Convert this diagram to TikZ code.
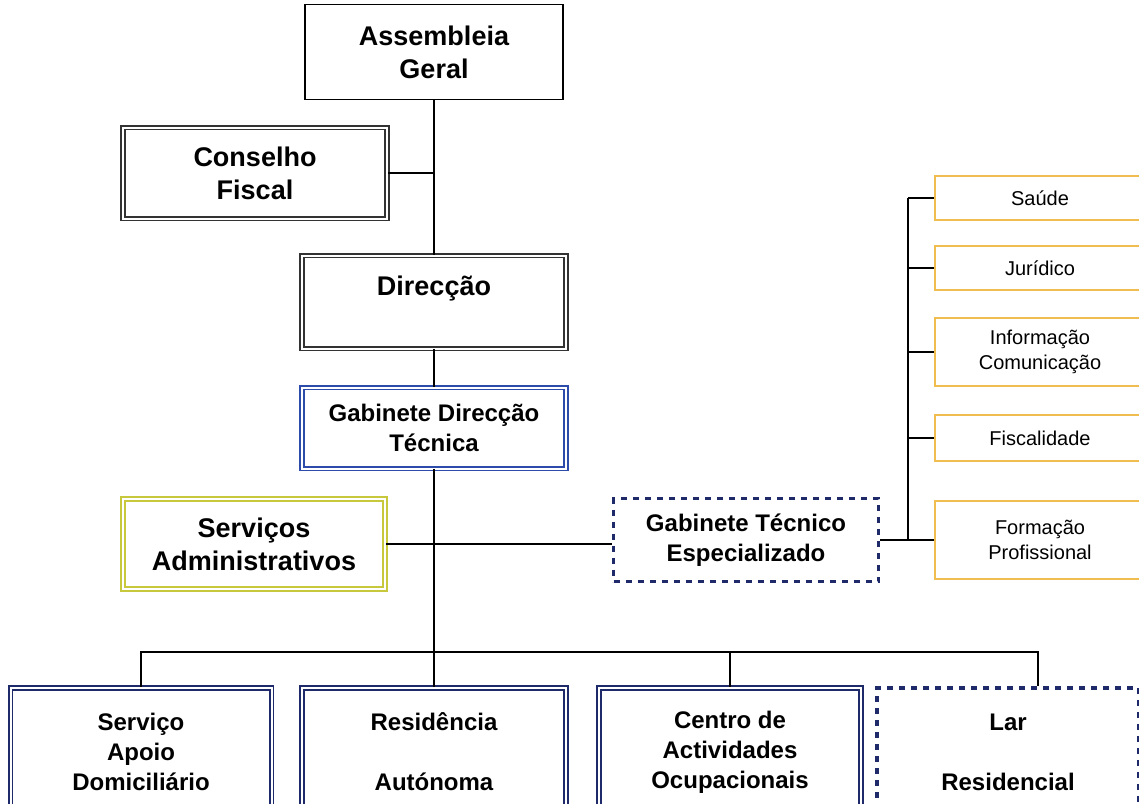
\documentclass[tikz,border=0pt]{standalone}
\usepackage{fontspec}
\setmainfont{Liberation Sans}
\usetikzlibrary{positioning}
\definecolor{gdtblue}{RGB}{45,75,170}
\definecolor{navyline}{RGB}{30,42,105}
\definecolor{admyellow}{RGB}{200,200,60}
\definecolor{gteorange}{RGB}{240,190,80}
\begin{document}
\begin{tikzpicture}[x=1pt,y=-1pt,
    unit/.style={rectangle, draw=black!80, line width=1.6pt, double=white, double distance=2pt, align=center, inner sep=0pt, font=\bfseries\fontsize{27}{33}\selectfont},
    lower/.style={unit, font=\bfseries\fontsize{24}{30}\selectfont},
    dashunit/.style={rectangle, draw=navyline, line width=3.5pt, dash pattern=on 6pt off 6pt, align=center, inner sep=0pt, font=\bfseries\fontsize{24}{30}\selectfont},
    area/.style={rectangle, draw=gteorange, line width=2.2pt, align=center, inner sep=0pt, minimum width=210pt, font=\fontsize{20}{25}\selectfont},
    line width=1.5pt]
        \useasboundingbox (0,0) rectangle (1139,803);

        \node at (434,52) [rectangle, draw, line width=1.8pt, align=center, minimum width=258pt, minimum height=95pt, font=\bfseries\fontsize{27}{33}\selectfont] (assembleia) {Assembleia\\Geral};
        \node at (255,173) [unit, minimum width=264pt, minimum height=91pt] (conselho) {Conselho\\Fiscal};
        \node at (434,302) [unit, minimum width=264pt, minimum height=93pt] (direccao) {Direcção\\~};
        \node at (434,428) [lower, draw=gdtblue, minimum width=264pt, minimum height=81pt] (gabdt) {Gabinete Direcção\\Técnica};
        \node at (254,544) [unit, draw=admyellow, minimum width=262pt, minimum height=90pt] (servadm) {Serviços\\Administrativos};
        \node at (746,540) [dashunit, minimum width=265pt, minimum height=83pt] (gabte) {Gabinete Técnico\\Especializado};

        % areas of the technical office
        \node at (1040,198) [area, minimum height=44pt] (saude) {Saúde};
        \node at (1040,268) [area, minimum height=44pt] (juridico) {Jurídico};
        \node at (1040,352) [area, minimum height=68pt] (informacao) {Informação\\Comunicação};
        \node at (1040,438) [area, minimum height=46pt] (fiscalidade) {Fiscalidade};
        \node at (1040,540) [area, minimum height=78pt] (formacao) {Formação\\Profissional};

        % services
        \node at (141,752) [lower, draw=navyline, minimum width=261pt, minimum height=128pt] (sad) {Serviço\\Apoio\\Domiciliário};
        \node at (434,752) [lower, draw=navyline, minimum width=264pt, minimum height=128pt] (residencia) {Residência\\~\\Autónoma};
        \node at (730,752) [lower, draw=navyline, minimum width=262pt, minimum height=128pt] (cao) {Centro de\\Actividades\\Ocupacionais};
        \node at (1008,752) [dashunit, minimum width=262pt, minimum height=128pt] (lar) {Lar\\~\\Residencial};

        \coordinate (bus) at (434,652);
        \coordinate (rtrunk) at (908,540);

        \draw   (assembleia) -- (direccao)
                (conselho.east) -- (conselho.east -| assembleia)
                (direccao) -- (gabdt)
                (gabdt.south) -- (bus)
                (servadm.east) -- (servadm.east -| gabte.west)
                (sad.north) |- (bus) -| ([xshift=30pt]lar.north)
                (residencia.north) -- (bus)
                (cao.north) -- (cao.north |- bus)
                (gabte.east) -- (rtrunk)
                (rtrunk) -- (rtrunk |- saude.west)
            ;
        \foreach \a in {saude, juridico, informacao, fiscalidade, formacao}
            \draw (\a.west) -- (\a.west -| rtrunk);
    \end{tikzpicture}
\end{document}
